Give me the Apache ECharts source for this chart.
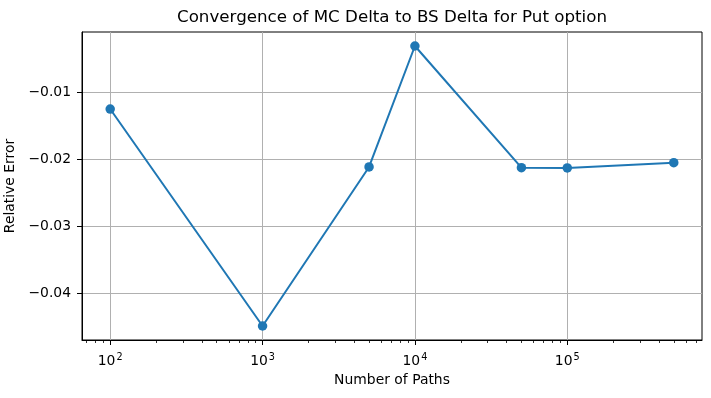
<!DOCTYPE html>
<html>
<head>
<meta charset="utf-8">
<script src="https://cdn.jsdelivr.net/npm/echarts@6/dist/echarts.min.js"></script>
<style>
html, body { margin: 0; padding: 0; background: #fff; }
#chart { width: 711px; height: 398px; }
</style>
</head>
<body>
<div id="chart"></div>
<script>
var paths = [100, 1000, 5000, 10000, 50000, 100000, 500000];
var relError = [-0.01254, -0.04493, -0.02119, -0.00313, -0.02130, -0.02134, -0.02055];
var xTicks = [100, 1000, 10000, 100000];
var xTickExponents = ['2', '3', '4', '5'];
var yTicks = [-0.04, -0.03, -0.02, -0.01];

// minor ticks 2..9 per decade, like matplotlib
var minorTicks = [];
for (var d = 10; d <= 100000; d *= 10) {
    for (var k = 2; k <= 9; k++) {
        if (d * k > 65.3 && d * k < 766000) minorTicks.push(d * k);
    }
}

var font = 'DejaVu Sans';
var chart = echarts.init(document.getElementById('chart'));

chart.setOption({
    animation: false,
    title: {
        text: 'Convergence of MC Delta to BS Delta for Put option',
        left: 392,
        textAlign: 'center',
        top: 9,
        padding: 0,
        textStyle: { fontFamily: font, fontSize: 16.7, fontWeight: 'normal', color: '#000' }
    },
    grid: {
        left: 82, right: 9, top: 32, bottom: 58,
        outerBoundsMode: 'none',
        containLabel: false,
        show: true, borderColor: '#000', borderWidth: 1, backgroundColor: '#fff'
    },
    xAxis: [{
        type: 'log',
        min: 65.3,
        max: 766000,
        name: 'Number of Paths',
        nameLocation: 'middle',
        nameGap: 33,
        nameTextStyle: { fontFamily: font, fontSize: 13.9, color: '#000' },
        axisLine: { show: true, lineStyle: { color: '#000', width: 1 } },
        axisTick: { show: true, customValues: xTicks, length: 5, lineStyle: { color: '#000', width: 1 } },
        axisLabel: {
            customValues: xTicks,
            margin: 12,
            fontFamily: font, fontSize: 13.9, color: '#000',
            formatter: function (v) {
                var i = xTicks.indexOf(Math.round(v));
                return i < 0 ? '' : '{b|10}{e|' + xTickExponents[i] + '}';
            },
            rich: {
                b: { fontFamily: font, fontSize: 13.9, color: '#000' },
                e: { fontFamily: font, fontSize: 9.7, color: '#000', verticalAlign: 'bottom', padding: [0, 0, 8, 1] }
            }
        },
        splitLine: { show: true, lineStyle: { color: '#b0b0b0', width: 1 } },
        minorTick: { show: false },
        minorSplitLine: { show: false }
    }, {
        type: 'log',
        min: 65.3,
        max: 766000,
        position: 'bottom',
        axisLine: { show: false },
        axisTick: { show: true, customValues: minorTicks, length: 3, lineStyle: { color: '#000', width: 0.8 } },
        axisLabel: { show: false },
        splitLine: { show: false }
    }],
    yAxis: {
        type: 'value',
        min: -0.04702,
        max: -0.00104,
        name: 'Relative Error',
        nameLocation: 'middle',
        nameGap: 53,
        nameTextStyle: { fontFamily: font, fontSize: 13.9, color: '#000' },
        axisLine: { show: true, lineStyle: { color: '#000', width: 1 } },
        axisTick: { show: true, customValues: yTicks, length: 5, lineStyle: { color: '#000', width: 1 } },
        axisLabel: {
            customValues: yTicks,
            margin: 11,
            fontFamily: font, fontSize: 13.9, color: '#000',
            formatter: function (v) {
                return '\u2212' + Math.abs(v).toFixed(2);
            }
        },
        splitLine: { show: true, lineStyle: { color: '#b0b0b0', width: 1 } }
    },
    series: [{
        type: 'line',
        xAxisIndex: 0,
        data: paths.map(function (p, i) { return [p, relError[i]]; }),
        symbol: 'circle',
        symbolSize: 9.5,
        showAllSymbol: true,
        itemStyle: { color: '#1f77b4' },
        lineStyle: { color: '#1f77b4', width: 2 }
    }]
});
</script>
</body>
</html>
